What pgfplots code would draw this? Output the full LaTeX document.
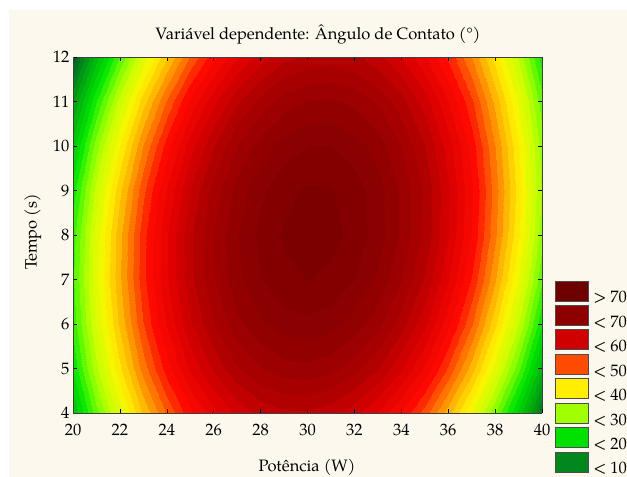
\documentclass[border=0pt]{standalone}
\usepackage{fontspec}
\setmainfont{TeX Gyre Pagella}
\usepackage{pgfplots}
\pgfplotsset{compat=1.18}

\definecolor{panel}{RGB}{253,248,238}
\definecolor{lgA}{RGB}{110,0,0}
\definecolor{lgB}{RGB}{142,0,0}
\definecolor{lgC}{RGB}{208,0,0}
\definecolor{lgD}{RGB}{255,75,0}
\definecolor{lgE}{RGB}{255,238,0}
\definecolor{lgF}{RGB}{160,255,0}
\definecolor{lgG}{RGB}{0,225,0}
\definecolor{lgH}{RGB}{0,135,30}

\begin{document}
\begin{tikzpicture}[font=\fontsize{16.5bp}{20bp}\selectfont]
\path[use as bounding box] (0,0) rectangle (627bp,477bp);
\fill[white] (0,0) rectangle (627bp,477bp);
\fill[panel] (9bp,0) rectangle (627bp,467bp);
\begin{axis}[
  at={(73bp,64bp)}, anchor=south west,
  scale only axis, width=469bp, height=356bp,
  view={0}{90},
  xmin=20, xmax=40, ymin=4, ymax=12,
  xtick={20,22,...,40}, ytick={4,5,...,12}, ztick=\empty,
  tick align=inside, tick pos=both,
  major tick length=4bp,
  tick style={black, line width=0.6bp},
  axis line style={draw=black!75, line width=0.8bp},
  /pgf/number format/assume math mode=true,
  xticklabel style={yshift=-8bp},
  colormap={statcm}{rgb255(0cm)=(0,80,45); rgb255(5cm)=(0,100,40); rgb255(10cm)=(0,150,20);
    rgb255(20cm)=(0,230,0); rgb255(26cm)=(130,255,0); rgb255(30cm)=(200,255,0);
    rgb255(36cm)=(255,245,0); rgb255(41cm)=(255,185,0); rgb255(45cm)=(255,120,0);
    rgb255(51cm)=(255,10,0); rgb255(58cm)=(220,0,0); rgb255(64cm)=(175,0,0);
    rgb255(70cm)=(145,0,0); rgb255(76cm)=(125,0,0)},
  point meta min=0, point meta max=76,
  legend image code/.code={\draw[draw=black!70,line width=0.6bp,#1] (0bp,-3bp) rectangle (33bp,17bp);},
  legend style={at={(axis description cs:1.0277,0.372)}, anchor=north west,
    draw=none, fill=none, inner sep=0pt, outer sep=0pt, row sep=0.7bp,
    nodes={inner sep=0pt, outer sep=0pt},
    /tikz/every odd column/.append style={column sep=5bp}},
  legend cell align=left,
]
\addplot3[contour filled={number=38}, forget plot] table {
x y z
20 4 16.06
21 4 25.12
22 4 33.18
23 4 40.24
24 4 46.30
25 4 51.36
26 4 55.42
27 4 58.48
28 4 60.54
29 4 61.60
30 4 61.66
31 4 60.72
32 4 58.78
33 4 55.84
34 4 51.90
35 4 46.96
36 4 41.02
37 4 34.08
38 4 26.14
39 4 17.20
40 4 7.26

20 5 20.23
21 5 29.44
22 5 37.66
23 5 44.87
24 5 51.09
25 5 56.31
26 5 60.52
27 5 63.74
28 5 65.96
29 5 67.17
30 5 67.39
31 5 66.61
32 5 64.82
33 5 62.04
34 5 58.25
35 5 53.47
36 5 47.69
37 5 40.90
38 5 33.12
39 5 24.34
40 5 14.55

20 6 22.79
21 6 32.17
22 6 40.54
23 6 47.91
24 6 54.28
25 6 59.66
26 6 64.03
27 6 67.40
28 6 69.77
29 6 71.15
30 6 71.52
31 6 70.89
32 6 69.26
33 6 66.64
34 6 63.01
35 6 58.38
36 6 52.75
37 6 46.12
38 6 38.50
39 6 29.87
40 6 20.24

20 7 23.76
21 7 33.29
22 7 41.82
23 7 49.35
24 7 55.88
25 7 61.40
26 7 65.93
27 7 69.46
28 7 71.99
29 7 73.52
30 7 74.05
31 7 73.58
32 7 72.10
33 7 69.63
34 7 66.16
35 7 61.69
36 7 56.22
37 7 49.75
38 7 42.27
39 7 33.80
40 7 24.33

20 8 23.13
21 8 32.82
22 8 41.50
23 8 49.18
24 8 55.87
25 8 61.55
26 8 66.24
27 8 69.92
28 8 72.61
29 8 74.29
30 8 74.98
31 8 74.66
32 8 73.34
33 8 71.03
34 8 67.71
35 8 63.40
36 8 58.08
37 8 51.77
38 8 44.45
39 8 36.14
40 8 26.82

20 9 20.90
21 9 30.74
22 9 39.58
23 9 47.42
24 9 54.26
25 9 60.10
26 9 64.94
27 9 68.78
28 9 71.62
29 9 73.46
30 9 74.30
31 9 74.14
32 9 72.99
33 9 70.83
34 9 67.67
35 9 63.51
36 9 58.35
37 9 52.19
38 9 45.03
39 9 36.87
40 9 27.71

20 10 17.07
21 10 27.07
22 10 36.06
23 10 44.06
24 10 51.05
25 10 57.05
26 10 62.05
27 10 66.04
28 10 69.04
29 10 71.04
30 10 72.03
31 10 72.03
32 10 71.03
33 10 69.02
34 10 66.02
35 10 62.02
36 10 57.01
37 10 51.01
38 10 44.00
39 10 36.00
40 10 27.00

20 11 11.64
21 11 21.79
22 11 30.94
23 11 39.10
24 11 46.25
25 11 52.40
26 11 57.55
27 11 61.70
28 11 64.86
29 11 67.01
30 11 68.16
31 11 68.31
32 11 67.47
33 11 65.62
34 11 62.77
35 11 58.92
36 11 54.08
37 11 48.23
38 11 41.38
39 11 33.53
40 11 24.69

20 12 4.61
21 12 14.92
22 12 24.22
23 12 32.53
24 12 39.84
25 12 46.15
26 12 51.46
27 12 55.77
28 12 59.07
29 12 61.38
30 12 62.69
31 12 63.00
32 12 62.31
33 12 60.62
34 12 57.92
35 12 54.23
36 12 49.54
37 12 43.85
38 12 37.16
39 12 29.47
40 12 20.77
};
\addlegendimage{fill=lgA}\addlegendentry{> 70}
\addlegendimage{fill=lgB}\addlegendentry{< 70}
\addlegendimage{fill=lgC}\addlegendentry{< 60}
\addlegendimage{fill=lgD}\addlegendentry{< 50}
\addlegendimage{fill=lgE}\addlegendentry{< 40}
\addlegendimage{fill=lgF}\addlegendentry{< 30}
\addlegendimage{fill=lgG}\addlegendentry{< 20}
\addlegendimage{fill=lgH}\addlegendentry{< 10}
\end{axis}
\node[anchor=base] at (318bp,437bp) {Variável dependente: Ângulo de Contato (°)};
\node[anchor=base] at (307bp,5.5bp) {Potência (W)};
\node[anchor=base, rotate=90] at (36.5bp,245bp) {Tempo (s)};
\end{tikzpicture}
\end{document}
